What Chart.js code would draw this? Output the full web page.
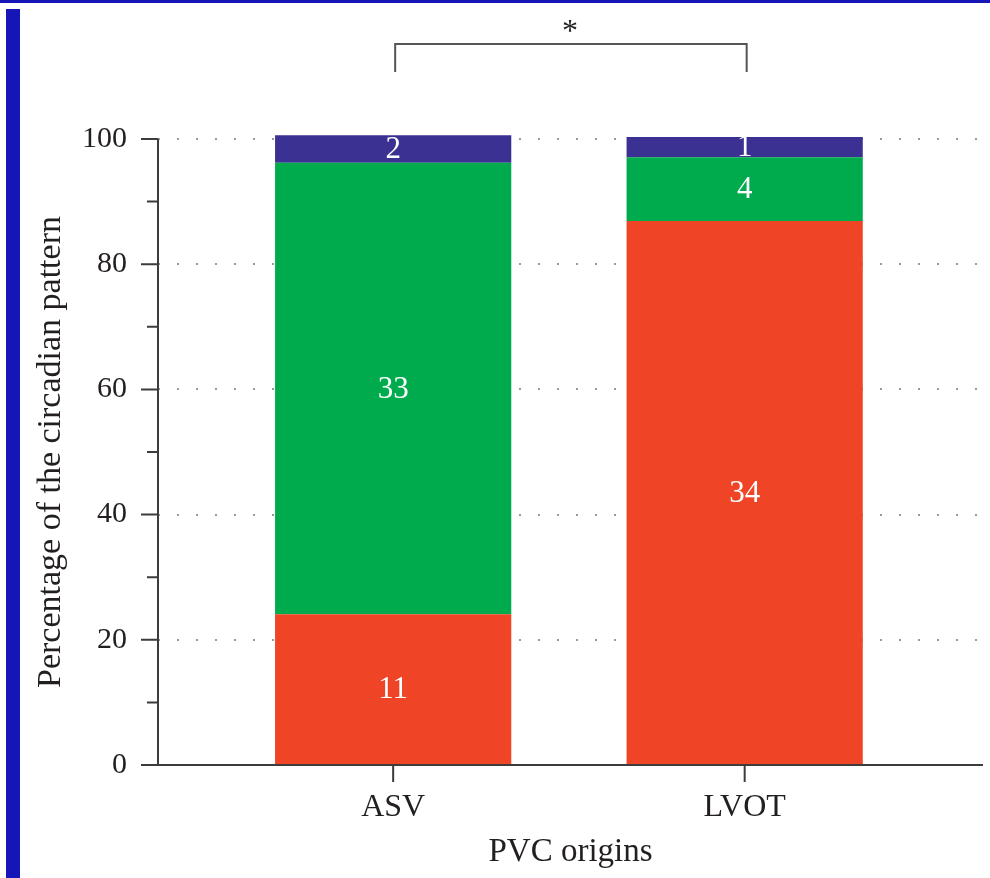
<!DOCTYPE html>
<html>
<head>
<meta charset="utf-8">
<script src="https://cdn.jsdelivr.net/npm/chart.js@4.4.1/dist/chart.umd.min.js"></script>
<style>
  body { margin: 0; background: #fff; }
  #wrap { position: relative; width: 990px; height: 878px; }
  #topbar { position: absolute; left: 0; top: 0; width: 990px; height: 3px; background: #1616b8; }
  #leftbar { position: absolute; left: 6px; top: 9px; width: 14px; height: 869px; background: #1616b8; }
</style>
</head>
<body>
<div id="wrap">
  <canvas id="chart" width="990" height="878"></canvas>
  <div id="topbar"></div>
  <div id="leftbar"></div>
</div>
<script>
// data
const categories = ['ASV', 'LVOT'];
const xPositions = [1, 2];
const redPct = [24.1, 86.9];
const greenPct = [72.1, 10.2];
const bluePct = [4.4, 3.2];
const redCounts = [11, 34];
const greenCounts = [33, 4];
const blueCounts = [2, 1];
const yTickLabels = [0, 20, 40, 60, 80, 100];
const sigMark = '*';

const serif = '"Liberation Serif", "DejaVu Serif", serif';
const textColor = '#231f20';
const axisColor = '#3c3c3c';

function points(values) {
    return xPositions.map((x, i) => ({ x: x, y: values[i] }));
}

// value labels in the middle of each segment
const segmentLabels = {
    id: 'segmentLabels',
    afterDatasetsDraw(chart) {
        const ctx = chart.ctx;
        ctx.save();
        ctx.fillStyle = '#ffffff';
        ctx.font = '31px ' + serif;
        ctx.textAlign = 'center';
        ctx.textBaseline = 'middle';
        chart.data.datasets.forEach((ds, di) => {
            const meta = chart.getDatasetMeta(di);
            meta.data.forEach((bar, i) => {
                ctx.fillText(String(ds.counts[i]), bar.x, (bar.y + bar.base) / 2 + 1);
            });
        });
        ctx.restore();
    }
};

// axis lines, major/minor ticks and the significance bracket
const axesAndBracket = {
    id: 'axesAndBracket',
    afterDraw(chart) {
        const ctx = chart.ctx;
        const xs = chart.scales.x;
        const ys = chart.scales.y;
        const x0 = chart.chartArea.left;
        const y0 = ys.getPixelForValue(0);
        const yTop = ys.getPixelForValue(100);

        ctx.save();
        ctx.strokeStyle = axisColor;
        ctx.lineWidth = 2;
        ctx.beginPath();
        ctx.moveTo(x0, yTop);
        ctx.lineTo(x0, y0);
        ctx.moveTo(x0 - 17, y0);
        ctx.lineTo(chart.chartArea.right, y0);
        for (let v = 0; v <= 100; v += 10) {
            const py = ys.getPixelForValue(v);
            const len = yTickLabels.includes(v) ? 17 : 11;
            ctx.moveTo(x0 - len, py);
            ctx.lineTo(x0, py);
        }
        xPositions.forEach(v => {
            const px = xs.getPixelForValue(v);
            ctx.moveTo(px, y0);
            ctx.lineTo(px, y0 + 17);
        });
        ctx.stroke();

        // bracket between the two bars
        const xa = xs.getPixelForValue(xPositions[0]) + 2;
        const xb = xs.getPixelForValue(xPositions[1]) + 2;
        ctx.strokeStyle = '#555555';
        ctx.beginPath();
        ctx.moveTo(xa, 72);
        ctx.lineTo(xa, 44);
        ctx.lineTo(xb, 44);
        ctx.lineTo(xb, 72);
        ctx.stroke();

        ctx.fillStyle = textColor;
        ctx.font = '32px ' + serif;
        ctx.textAlign = 'center';
        ctx.textBaseline = 'alphabetic';
        ctx.fillText(sigMark, (xa + xb) / 2 - 1, 41);
        ctx.restore();
    }
};

new Chart(document.getElementById('chart'), {
    type: 'bar',
    data: {
        datasets: [
            { label: 'red', data: points(redPct), counts: redCounts, backgroundColor: '#ef4425' },
            { label: 'green', data: points(greenPct), counts: greenCounts, backgroundColor: '#00ab4e' },
            { label: 'blue', data: points(bluePct), counts: blueCounts, backgroundColor: '#3a3192' }
        ]
    },
    options: {
        responsive: false,
        animation: false,
        layout: { padding: { left: 0, top: 139, right: 7, bottom: 0 } },
        datasets: {
            bar: { barPercentage: 0.672, categoryPercentage: 1, clip: false, borderWidth: 0 }
        },
        plugins: {
            legend: { display: false },
            tooltip: { enabled: false }
        },
        scales: {
            x: {
                type: 'linear',
                offset: false,
                stacked: true,
                min: 0.331,
                max: 2.678,
                afterBuildTicks: s => { s.ticks = xPositions.map(v => ({ value: v })); },
                afterFit: s => { s.height = 113; },
                grid: { display: false, drawTicks: false },
                border: { display: false },
                ticks: {
                    callback: v => categories[xPositions.indexOf(v)],
                    font: { family: serif, size: 32 },
                    color: textColor,
                    padding: 23,
                    maxRotation: 0
                },
                title: {
                    display: true,
                    text: 'PVC origins',
                    font: { family: serif, size: 33 },
                    color: textColor,
                    padding: { top: 0, bottom: 6 }
                }
            },
            y: {
                stacked: true,
                min: 0,
                max: 100,
                afterFit: s => { s.width = 158; },
                border: { display: false, dash: [2, 17], dashOffset: 0 },
                grid: {
                    drawTicks: false,
                    lineWidth: 2,
                    color: c => (c.tick && c.tick.value > 0 && yTickLabels.includes(c.tick.value)) ? '#9a9a9a' : 'rgba(0,0,0,0)'
                },
                ticks: {
                    stepSize: 10,
                    callback: v => yTickLabels.includes(v) ? String(v) : '',
                    font: { family: serif, size: 30 },
                    color: textColor,
                    padding: 31
                },
                title: {
                    display: true,
                    text: 'Percentage of the circadian pattern',
                    font: { family: serif, size: 34 },
                    color: textColor,
                    padding: { top: 31, bottom: 0 }
                }
            }
        }
    },
    plugins: [segmentLabels, axesAndBracket]
});
</script>
</body>
</html>
